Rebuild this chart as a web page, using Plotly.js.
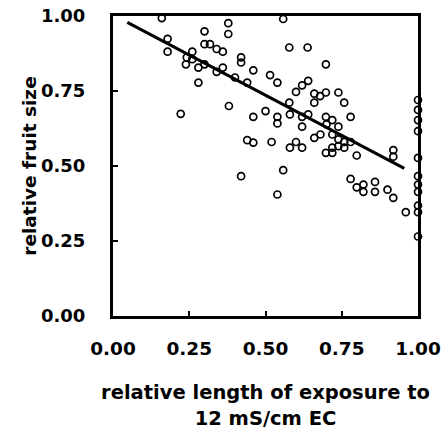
<!DOCTYPE html>
<html>
<head>
<meta charset="utf-8">
<script src="https://cdn.plot.ly/plotly-3.0.1.min.js"></script>
<style>html,body{margin:0;padding:0;background:#fff;}#chart{width:445px;height:437px;}</style>
</head>
<body>
<div id="chart"></div>
<script>
// Observed points: relative length of exposure (x) vs relative fruit size (y)
const exposure = [
  0.16, 0.378, 0.30, 0.378, 0.179, 0.179, 0.30, 0.318, 0.34, 0.36,
  0.26, 0.242, 0.26, 0.239, 0.28, 0.30, 0.42, 0.42, 0.36, 0.34,
  0.46, 0.40, 0.44, 0.28, 0.515, 0.38, 0.222, 0.50, 0.46, 0.44,
  0.46, 0.52, 0.42,
  0.558, 0.578, 0.638, 0.698, 0.539, 0.64, 0.62, 0.60, 0.66, 0.679,
  0.698, 0.739, 0.66, 0.758, 0.578, 0.539, 0.539, 0.58, 0.62, 0.64,
  0.698, 0.719, 0.70, 0.739, 0.779, 0.62, 0.719, 0.68, 0.66, 0.60,
  0.58, 0.62, 0.739, 0.758, 0.779, 0.739, 0.719, 0.758, 0.698, 0.719,
  0.799, 0.919, 0.919, 0.558,
  1.0, 1.0, 1.0, 1.0, 1.0,
  0.539, 0.779, 0.799, 0.821, 0.821, 0.859, 0.859, 0.90, 0.919, 0.96,
  1.0, 1.0, 1.0, 1.0, 1.0, 1.0
];
const fruitSize = [
  0.993, 0.976, 0.949, 0.94, 0.924, 0.881, 0.906, 0.906, 0.89, 0.881,
  0.881, 0.862, 0.856, 0.839, 0.828, 0.839, 0.862, 0.845, 0.828, 0.814,
  0.819, 0.795, 0.778, 0.778, 0.803, 0.70, 0.674, 0.683, 0.664, 0.586,
  0.578, 0.58, 0.466,
  0.99, 0.895, 0.895, 0.839, 0.778, 0.784, 0.769, 0.747, 0.741, 0.733,
  0.745, 0.745, 0.711, 0.711, 0.711, 0.664, 0.642, 0.672, 0.664, 0.672,
  0.664, 0.653, 0.639, 0.631, 0.664, 0.631, 0.605, 0.605, 0.594, 0.58,
  0.561, 0.561, 0.589, 0.58, 0.58, 0.566, 0.561, 0.561, 0.544, 0.544,
  0.535, 0.553, 0.531, 0.486,
  0.72, 0.687, 0.653, 0.616, 0.527,
  0.405, 0.457, 0.429, 0.438, 0.414, 0.447, 0.414, 0.421, 0.394, 0.346,
  0.466, 0.438, 0.414, 0.368, 0.346, 0.265
];
// Fitted regression line
const fitSlope = -0.536;
const fitIntercept = 1.004;
const fitX = [0.047, 0.955];
const fitY = fitX.map(x => fitIntercept + fitSlope * x);

const tickVals = [0, 0.25, 0.5, 0.75, 1.0];
const tickText = ['0.00', '0.25', '0.50', '0.75', '1.00'];

const font = {family: 'DejaVu Sans, Arial, sans-serif', color: '#000', weight: 'bold'};

const data = [
  {
    x: exposure, y: fruitSize, type: 'scatter', mode: 'markers',
    cliponaxis: false,
    marker: {symbol: 'circle-open', size: 7, color: '#000', line: {width: 1.7, color: '#000'}},
    hoverinfo: 'x+y', showlegend: false
  },
  {
    x: fitX, y: fitY, type: 'scatter', mode: 'lines',
    line: {color: '#000', width: 3},
    hoverinfo: 'skip', showlegend: false
  }
];

const layout = {
  width: 445, height: 437,
  margin: {l: 113, r: 27, t: 16, b: 121},
  paper_bgcolor: '#fff', plot_bgcolor: '#fff',
  font: Object.assign({}, font, {size: 18}),
  showlegend: false,
  xaxis: {
    range: [0, 1], tickvals: tickVals, ticktext: tickText,
    showgrid: false, zeroline: false,
    showline: true, linecolor: '#000', linewidth: 3, mirror: true,
    ticks: 'inside', ticklen: 5, tickwidth: 2, tickcolor: '#000',
    ticklabelstandoff: 14,
    tickfont: Object.assign({}, font, {size: 18.5}),
    title: {text: 'relative length of exposure to<br>12 mS/cm EC', font: Object.assign({}, font, {size: 19.5}), standoff: 28}
  },
  yaxis: {
    range: [0, 1], tickvals: tickVals, ticktext: tickText,
    showgrid: false, zeroline: false,
    showline: true, linecolor: '#000', linewidth: 3, mirror: true,
    ticks: 'inside', ticklen: 5, tickwidth: 2, tickcolor: '#000',
    ticklabelstandoff: 21,
    tickfont: Object.assign({}, font, {size: 18}),
    title: {text: 'relative fruit size', font: Object.assign({}, font, {size: 18.5}), standoff: 0}
  }
};

Plotly.newPlot('chart', data, layout, {displayModeBar: false, staticPlot: true});
</script>
</body>
</html>
